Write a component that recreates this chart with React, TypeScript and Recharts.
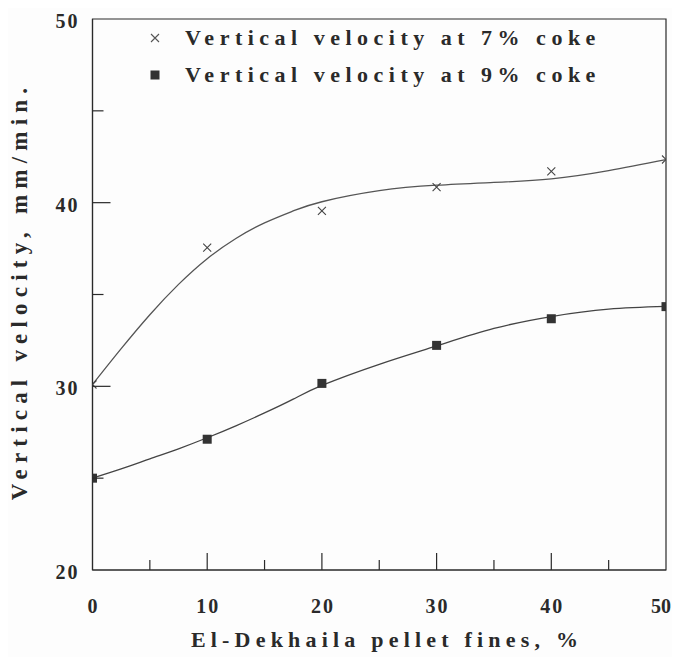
import { ComposedChart, Line, Scatter, XAxis, YAxis, ReferenceArea } from "recharts"

// El-Dekhaila pellet fines, %
const fines = [0, 10, 20, 30, 40, 50]
// measured vertical velocity, mm/min
const coke7 = [30.1, 37.55, 39.55, 40.85, 41.7, 42.35]
const coke9 = [25.0, 27.12, 30.16, 32.23, 33.68, 34.34]

// fitted trend curves, sampled along each drawn curve
const curveX = [0, 2.5, 5, 7.5, 10, 12.5, 15, 17.5, 20, 25, 30, 35, 40, 45, 50]
const curve7 = [30.1, 32.05, 33.9, 35.55, 36.95, 38.05, 38.9, 39.55, 40.05, 40.65, 40.95, 41.1, 41.3, 41.75, 42.35]
const curve9 = [25.0, 25.5, 26.05, 26.6, 27.2, 27.85, 28.55, 29.3, 30.05, 31.2, 32.2, 33.15, 33.8, 34.2, 34.35]

const xTicks = [0, 5, 10, 15, 20, 25, 30, 35, 40, 45, 50]
const yTicks = [20, 25, 30, 35, 40, 45, 50]

const series = [
  { name: "Vertical velocity at 7% coke", marker: "cross" },
  { name: "Vertical velocity at 9% coke", marker: "square" },
]

const points7 = fines.map((x, i) => ({ x, y: coke7[i] }))
const points9 = fines.map((x, i) => ({ x, y: coke9[i] }))
const fit7 = curveX.map((x, i) => ({ x, y: curve7[i] }))
const fit9 = curveX.map((x, i) => ({ x, y: curve9[i] }))

const INK = "#2a2a2a"
const FONT = "'Liberation Serif', 'Times New Roman', serif"

const XTick = (props: any) => {
  const { x, y, payload } = props
  const v = payload.value as number
  const major = v % 10 === 0
  const len = major ? 17 : 10
  // the last label sits against the right edge, so anchor it by its end
  const last = v === 50
  return (
    <g>
      {v > 0 && v < 50 && <line x1={x} x2={x} y1={y} y2={y - len} stroke={INK} strokeWidth={1.2} />}
      {major && (
        <text x={last ? x + 5 : x + 1} y={y + 36} textAnchor={last ? "end" : "middle"}
          dominantBaseline="central" fill={INK}
          style={{ fontFamily: FONT, fontWeight: 700, fontSize: 20, letterSpacing: last ? 0 : 2 }}>
          {v}
        </text>
      )}
    </g>
  )
}

const YTick = (props: any) => {
  const { x, y, payload } = props
  const v = payload.value as number
  const major = v % 10 === 0
  const len = major ? 18 : 11
  return (
    <g>
      {v > 20 && v < 50 && <line x1={x} x2={x + len} y1={y} y2={y} stroke={INK} strokeWidth={1.2} />}
      {major && (
        <text x={x - 13} y={y + 2} textAnchor="end" dominantBaseline="central" fill={INK}
          style={{ fontFamily: FONT, fontWeight: 700, fontSize: 20, letterSpacing: 2 }}>
          {v}
        </text>
      )}
    </g>
  )
}

const CrossDot = (props: any) => {
  const { cx, cy } = props
  const r = 4
  return (
    <path d={`M${cx - r},${cy - r}L${cx + r},${cy + r}M${cx - r},${cy + r}L${cx + r},${cy - r}`}
      stroke="#444" strokeWidth={1.1} fill="none" />
  )
}

const SquareDot = (props: any) => {
  const { cx, cy } = props
  const s = 9
  return <rect x={cx - s / 2} y={cy - s / 2} width={s} height={s} fill="#333" />
}

const LegendBox = () => (
  <div style={{ position: "absolute", left: 139, top: 11, fontFamily: FONT, fontWeight: 700, fontSize: 22,
    letterSpacing: 5.5, color: INK, lineHeight: "37px", whiteSpace: "nowrap" }}>
    {series.map((s) => (
      <div key={s.name} style={{ display: "flex", alignItems: "center" }}>
        <svg width={38} height={20}>
          {s.marker === "cross" ? (
            <path d="M4,6L12,14M4,14L12,6" stroke="#555" strokeWidth={1.1} fill="none" />
          ) : (
            <rect x={3.5} y={5.5} width={9} height={9} fill="#333" />
          )}
        </svg>
        <span>{s.name}</span>
      </div>
    ))}
  </div>
)

export default function App() {
  return (
    <div style={{ position: "relative", width: 672, height: 649, background: "#fdfdfd" }}>
      <ComposedChart width={672} height={649} margin={{ top: 11, right: 14, left: 0, bottom: 0 }}>
        <XAxis
          dataKey="x"
          type="number"
          domain={[0, 50]}
          ticks={xTicks}
          interval={0}
          height={87}
          tickSize={0}
          tickMargin={0}
          tickLine={false}
          axisLine={{ stroke: INK, strokeWidth: 1.2 }}
          tick={<XTick />}
          allowDataOverflow
        />
        <YAxis
          dataKey="y"
          type="number"
          domain={[20, 50]}
          ticks={yTicks}
          interval={0}
          width={84.5}
          tickSize={0}
          tickMargin={0}
          tickLine={false}
          axisLine={{ stroke: INK, strokeWidth: 1.2 }}
          tick={<YTick />}
          allowDataOverflow
        />
        <ReferenceArea x1={0} x2={50} y1={20} y2={50} fill="none" stroke={INK} strokeWidth={1.2} />
        <Line data={fit7} dataKey="y" type="natural" stroke="#555" strokeWidth={1.3} dot={false}
          isAnimationActive={false} legendType="none" />
        <Line data={fit9} dataKey="y" type="natural" stroke="#444" strokeWidth={1.3} dot={false}
          isAnimationActive={false} legendType="none" />
        <Scatter data={points7} dataKey="y" shape={<CrossDot />} isAnimationActive={false} legendType="none" />
        <Scatter data={points9} dataKey="y" shape={<SquareDot />} isAnimationActive={false} legendType="none" />
      </ComposedChart>
      <LegendBox />
      <div style={{ position: "absolute", left: 379, top: 632, transform: "translate(-50%, -50%)", whiteSpace: "nowrap",
        fontFamily: FONT, fontWeight: 700, fontSize: 22, letterSpacing: 5.2, color: INK }}>
        El-Dekhaila pellet fines, %
      </div>
      <div style={{ position: "absolute", left: 12, top: 283, transform: "translate(-50%, -50%) rotate(-90deg)",
        whiteSpace: "nowrap", fontFamily: FONT, fontWeight: 700, fontSize: 23, letterSpacing: 6.2, color: INK }}>
        Vertical velocity, mm/min.
      </div>
    </div>
  )
}
